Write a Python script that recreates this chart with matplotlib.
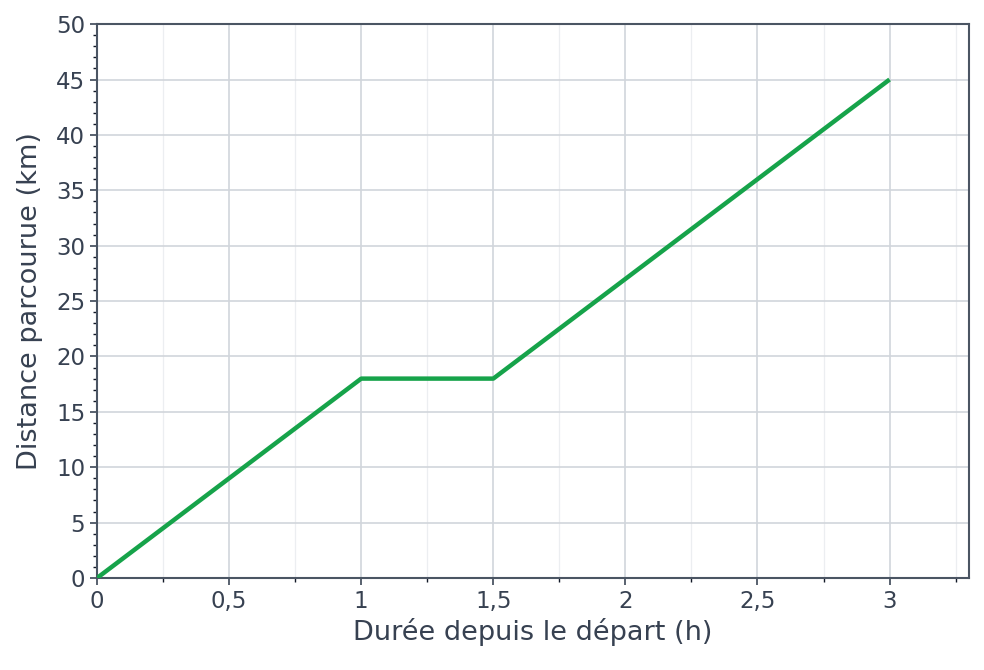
import matplotlib
matplotlib.use("Agg")
import matplotlib.pyplot as plt
from matplotlib.ticker import MultipleLocator, FuncFormatter

# données du trajet
durees = [0, 1, 1.5, 3]
distances = [0, 18, 18, 45]

texte = "#374151"
axe = "#4b5563"

fig = plt.figure(figsize=(9.84, 6.70), dpi=100)
ax = fig.add_axes([0.0986, 0.1373, 0.886, 0.8267])

ax.plot(durees, distances, color="#16a34a", linewidth=3.2, solid_capstyle="butt", zorder=3)

ax.set_xlim(0, 3.3)
ax.set_ylim(0, 50)
ax.xaxis.set_major_locator(MultipleLocator(0.5))
ax.xaxis.set_minor_locator(MultipleLocator(0.25))
ax.yaxis.set_major_locator(MultipleLocator(5))
ax.yaxis.set_minor_locator(MultipleLocator(1))

def virgule(v, pos):
    s = ("%g" % v).replace(".", ",")
    return s
ax.xaxis.set_major_formatter(FuncFormatter(virgule))

ax.grid(which="major", color="#d1d5db", linewidth=1.2)
ax.grid(which="minor", axis="x", color="#eceef1", linewidth=0.9)
ax.set_axisbelow(True)

for s in ax.spines.values():
    s.set_color(axe)
    s.set_linewidth(1.5)

ax.tick_params(which="major", length=5, width=1.3, color=axe, labelcolor=texte, labelsize=16.5)
ax.tick_params(which="minor", length=3, width=1, color="#111827")

ax.set_xlabel("Durée depuis le départ (h)", fontsize=19.5, color=texte, labelpad=4)
ax.set_ylabel("Distance parcourue (km)", fontsize=19.5, color=texte, labelpad=9)

fig.savefig("out.png", dpi=100)
